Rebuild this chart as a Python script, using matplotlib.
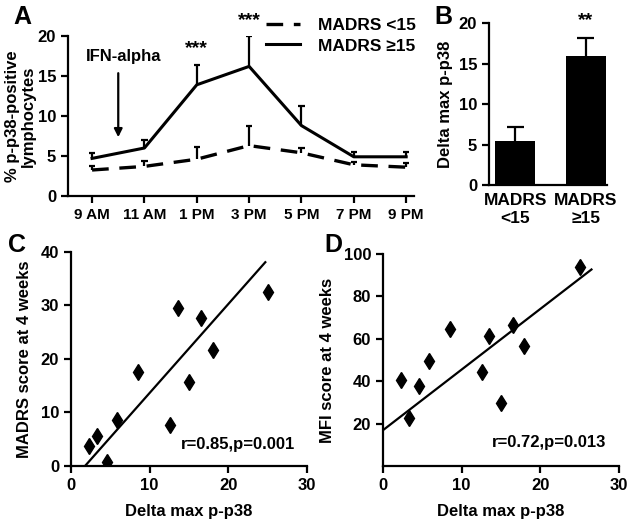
import numpy as np
import matplotlib
matplotlib.use("Agg")
import matplotlib.pyplot as plt

plt.rcParams['font.family'] = ['Liberation Sans', 'DejaVu Sans']
plt.rcParams['font.weight'] = 'bold'
plt.rcParams['axes.labelweight'] = 'bold'

# ---- Panel A data ----
times = ['9 AM', '11 AM', '1 PM', '3 PM', '5 PM', '7 PM', '9 PM']
high_mean = [4.7, 6.0, 13.9, 16.2, 8.8, 4.9, 4.9]
high_upper = [5.4, 7.0, 16.4, 20.0, 11.3, 5.5, 5.5]
low_mean = [3.25, 3.7, 4.6, 6.3, 5.4, 3.9, 3.6]
low_upper = [3.7, 4.4, 6.1, 8.75, 6.0, 4.2, 4.1]
legend_labels = ['MADRS <15', 'MADRS \u226515']

# ---- Panel B data ----
bar_labels = ['MADRS\n<15', 'MADRS\n\u226515']
bar_values = [5.45, 15.95]
bar_upper = [7.2, 18.2]

# ---- Panel C data ----
delta_p38 = [2.33, 3.26, 4.57, 5.8, 8.46, 12.6, 13.6, 15.06, 16.5, 18.0, 25.1]
madrs = [3.7, 5.65, 0.7, 8.6, 17.5, 7.6, 29.5, 15.65, 27.6, 21.55, 32.5]
fit_c = (1.658, -2.95)      # slope, intercept
fit_c_x = (1.78, 24.7)
text_c = 'r=0.85,p=0.001'

# ---- Panel D data ----
delta_p38_d = [2.32, 3.25, 4.56, 5.83, 8.53, 12.6, 13.5, 15.04, 16.56, 17.96, 25.0]
mfi = [40.6, 22.8, 37.8, 49.4, 64.8, 44.5, 61.4, 29.5, 66.6, 56.4, 94.1]
fit_d = (2.86, 16.9)
fit_d_x = (0.0, 26.5)
text_d = 'r=0.72,p=0.013'

W, H = 631, 521
fig = plt.figure(figsize=(W / 100, H / 100), dpi=100)

def box(l, r, b, t):
    return [l / W, 1 - b / H, (r - l) / W, (b - t) / H]

def style(ax):
    for s in ['top', 'right']:
        ax.spines[s].set_visible(False)
    for s in ['left', 'bottom']:
        ax.spines[s].set_linewidth(1.6)
    ax.tick_params(direction='out', length=5, width=1.6, labelsize=12)
    for lab in ax.get_xticklabels() + ax.get_yticklabels():
        lab.set_fontweight('bold')

def upper_err(ax, x, mean, upper, cw=0.06):
    ax.vlines(x, mean, upper, colors='black', lw=1.6)
    ax.hlines(upper, np.array(x) - cw, np.array(x) + cw, colors='black', lw=1.6)

# ---- A ----
axA = fig.add_axes(box(68, 414, 196, 36))
xA = np.arange(len(times))
axA.plot(xA, low_mean, color='black', lw=2.4, dashes=(5.0, 3.2), label=legend_labels[0])
axA.plot(xA, high_mean, color='black', lw=2.2, label=legend_labels[1])
upper_err(axA, xA, low_mean, low_upper)
upper_err(axA, xA, high_mean, high_upper)
axA.set_xlim(-0.46, 6.15)
axA.set_ylim(0, 20)
axA.set_xticks(xA)
axA.set_xticklabels(times)
axA.set_yticks([0, 5, 10, 15, 20])
axA.set_ylabel('% p-p38-positive\nlymphocytes', fontsize=12, labelpad=1, linespacing=1.15)
style(axA)
axA.tick_params(axis='x', labelsize=11)
axA.annotate('', xy=(0.5, 7.0), xytext=(0.5, 15.7),
             arrowprops=dict(arrowstyle='-|>', color='black', lw=1.6, mutation_scale=12))
axA.text(0.6, 17.5, 'IFN-alpha', ha='center', va='center', fontsize=12, fontweight='bold')
axA.text(2, 18.4, '***', ha='center', va='center', fontsize=14, fontweight='bold')
axA.text(3, 21.9, '***', ha='center', va='center', fontsize=14, fontweight='bold', clip_on=False)
leg = axA.legend(loc='upper right', bbox_to_anchor=(1.05, 1.21), frameon=False,
                 handlelength=2.0, handletextpad=1.0, labelspacing=0.3,
                 prop={'weight': 'bold', 'size': 12.5})

# ---- B ----
axB = fig.add_axes(box(489, 607, 185, 23.3))
xB = np.arange(len(bar_labels))
axB.bar(xB, bar_values, width=0.57, color='black')
upper_err(axB, xB, bar_values, bar_upper, cw=0.12)
axB.set_xlim(-0.37, 1.3)
axB.set_ylim(0, 20)
axB.set_xticks(xB)
axB.set_xticklabels(bar_labels, linespacing=1.2)
axB.set_yticks([0, 5, 10, 15, 20])
axB.set_ylabel('Delta max p-p38', fontsize=12, labelpad=4)
style(axB)
axB.tick_params(axis='x', length=0, labelsize=12.5, pad=6)
axB.text(1, 20.3, '**', ha='center', va='center', fontsize=14, fontweight='bold', clip_on=False)

# ---- C ----
axC = fig.add_axes(box(71, 307, 466, 251.5))
axC.plot(delta_p38, madrs, linestyle='none', marker='d', markersize=8.5, color='black')
xc = np.array(fit_c_x)
axC.plot(xc, fit_c[0] * xc + fit_c[1], color='black', lw=1.6)
axC.set_xlim(0, 30)
axC.set_ylim(0, 40)
axC.set_xticks([0, 10, 20, 30])
axC.set_yticks([0, 10, 20, 30, 40])
axC.set_xlabel('Delta max p-p38', fontsize=12, labelpad=8)
axC.set_ylabel('MADRS score at 4 weeks', fontsize=12, labelpad=6)
axC.text(28.5, 4.1, text_c, ha='right', va='center', fontsize=12, fontweight='bold')
style(axC)

# ---- D ----
axD = fig.add_axes(box(383, 619, 466, 254))
axD.plot(delta_p38_d, mfi, linestyle='none', marker='d', markersize=8.5, color='black')
xd = np.array(fit_d_x)
axD.plot(xd, fit_d[0] * xd + fit_d[1], color='black', lw=1.6)
axD.set_xlim(0, 30)
axD.set_ylim(0, 100)
axD.set_xticks([0, 10, 20, 30])
axD.set_yticks([20, 40, 60, 80, 100])
axD.set_xlabel('Delta max p-p38', fontsize=12, labelpad=8)
axD.set_ylabel('MFI score at 4 weeks', fontsize=12, labelpad=6)
axD.text(28.4, 11.1, text_d, ha='right', va='center', fontsize=12, fontweight='bold')
style(axD)

for lab, (px, py) in zip('ABCD', [(22, 17), (443, 17), (17, 245), (333, 245)]):
    fig.text(px / W, 1 - py / H, lab, ha='center', va='center', fontsize=18, fontweight='bold')

fig.savefig('out.png', dpi=100)
